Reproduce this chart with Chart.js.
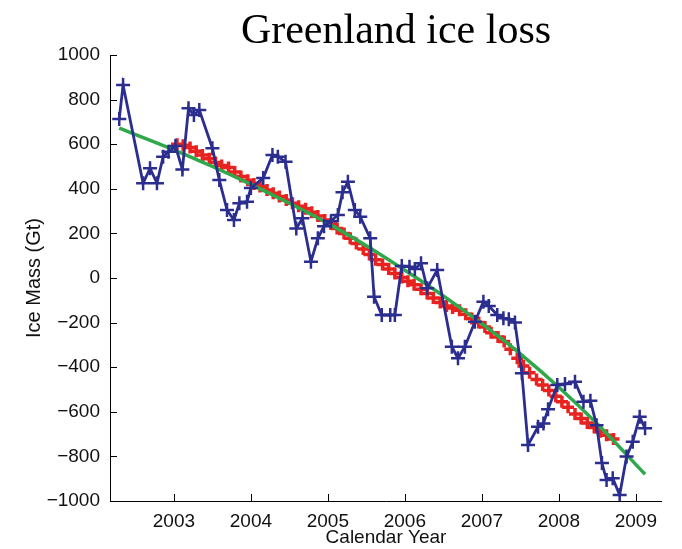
<!DOCTYPE html>
<html>
<head>
<meta charset="utf-8">
<script src="https://cdn.jsdelivr.net/npm/chart.js@4.4.1/dist/chart.umd.min.js"></script>
<style>
  body { margin: 0; background: #fff; }
  #wrap { width: 682px; height: 549px; }
</style>
</head>
<body>
<div id="wrap"><canvas id="iceChart" width="682" height="549"></canvas></div>
<script>
// GRACE monthly ice mass (blue crosses)
const blueYears = [
  2002.29, 2002.34, 2002.60, 2002.69, 2002.78, 2002.86, 2002.93, 2003.02, 2003.11, 2003.19,
  2003.26, 2003.33, 2003.50, 2003.59, 2003.69, 2003.78, 2003.85, 2003.95, 2004.00, 2004.16,
  2004.28, 2004.35, 2004.45, 2004.59, 2004.67, 2004.78, 2004.87, 2004.95, 2005.04, 2005.13,
  2005.19, 2005.26, 2005.35, 2005.42, 2005.55, 2005.60, 2005.70, 2005.81, 2005.87, 2005.96,
  2006.06, 2006.13, 2006.21, 2006.29, 2006.42, 2006.61, 2006.69, 2006.78, 2006.91, 2007.02,
  2007.09, 2007.20, 2007.28, 2007.35, 2007.43, 2007.52, 2007.60, 2007.73, 2007.80, 2007.86,
  2007.98, 2008.08, 2008.21, 2008.32, 2008.41, 2008.49, 2008.56, 2008.62, 2008.70, 2008.79,
  2008.88, 2008.96, 2009.05, 2009.12
];
const blueMass = [
  713, 865, 425, 492, 425, 544, 566, 592, 487, 761,
  731, 753, 582, 439, 305, 260, 335, 342, 404, 448,
  552, 544, 521, 222, 268, 73, 178, 232, 255, 283,
  385, 432, 305, 275, 178, -84, -166, -166, -166, 54,
  51, 40, 66, -46, 36, -308, -360, -308, -196, -106,
  -125, -166, -180, -185, -200, -427, -749, -667, -652, -589,
  -480, -475, -465, -555, -550, -660, -830, -906, -898, -973,
  -801, -734, -622, -674
];

// smoothed series (red crosses)
const redYears = [
  2003.04, 2003.12, 2003.21, 2003.29, 2003.37, 2003.46, 2003.54, 2003.62, 2003.71, 2003.79,
  2003.87, 2003.96, 2004.04, 2004.12, 2004.21, 2004.29, 2004.37, 2004.46, 2004.54, 2004.62,
  2004.71, 2004.79, 2004.87, 2004.96, 2005.04, 2005.12, 2005.21, 2005.29, 2005.37, 2005.46,
  2005.54, 2005.62, 2005.71, 2005.79, 2005.87, 2005.96, 2006.04, 2006.12, 2006.21, 2006.29,
  2006.37, 2006.46, 2006.54, 2006.62, 2006.71, 2006.79, 2006.87, 2006.96, 2007.04, 2007.12,
  2007.21, 2007.29, 2007.37, 2007.46, 2007.54, 2007.62, 2007.71, 2007.79, 2007.87, 2007.96,
  2008.04, 2008.12, 2008.21, 2008.29, 2008.37, 2008.46, 2008.54, 2008.62, 2008.71
];
const redMass = [
  600, 595, 585, 568, 552, 535, 518, 505, 495, 475,
  455, 438, 422, 410, 395, 380, 365, 350, 335, 322,
  310, 295, 278, 260, 242, 222, 200, 178, 155, 130,
  105, 82, 60, 40, 20, 2, -15, -30, -50, -70,
  -90, -110, -125, -135, -145, -162, -182, -200, -220, -245,
  -265, -285, -320, -360, -395, -425, -455, -480, -505, -530,
  -555, -580, -610, -630, -650, -670, -690, -705, -722
];

// fitted trend (green line)
const fitYears = [2002.29, 2003.0, 2003.5, 2004.0, 2004.5, 2005.0, 2005.5, 2006.0, 2006.5, 2007.0, 2007.5, 2008.0, 2008.5, 2009.12];
const fitMass = [672, 575, 500, 420, 335, 245, 145, 35, -80, -205, -340, -490, -655, -880];

const xTickYears = [2003, 2004, 2005, 2006, 2007, 2008, 2009];

const toPoints = (xs, ys) => xs.map((x, i) => ({ x: x, y: ys[i] }));

Chart.defaults.font.family = '"Liberation Sans", Arial, sans-serif';
Chart.defaults.color = "#111";

// MATLAB style axes: left + bottom line, ticks pointing inward
const matlabAxes = {
  id: "matlabAxes",
  afterDraw(chart) {
    const { ctx, chartArea: a, scales } = chart;
    ctx.save();
    ctx.strokeStyle = "#000";
    ctx.lineWidth = 1;
    ctx.beginPath();
    ctx.moveTo(a.left + 0.5, a.top);
    ctx.lineTo(a.left + 0.5, a.bottom + 0.5);
    ctx.lineTo(a.right, a.bottom + 0.5);
    scales.y.ticks.forEach((t) => {
      const py = Math.round(scales.y.getPixelForValue(t.value)) + 0.5;
      ctx.moveTo(a.left, py);
      ctx.lineTo(a.left + 7, py);
    });
    scales.x.ticks.forEach((t) => {
      const px = Math.round(scales.x.getPixelForValue(t.value)) + 0.5;
      ctx.moveTo(px, a.bottom);
      ctx.lineTo(px, a.bottom - 7);
    });
    ctx.stroke();

    ctx.fillStyle = "#000";
    ctx.font = '42px "Liberation Serif", "Times New Roman", serif';
    ctx.textAlign = "center";
    ctx.textBaseline = "alphabetic";
    ctx.fillText("Greenland ice loss", 396, 43);
    ctx.restore();
  },
};

new Chart(document.getElementById("iceChart"), {
  type: "line",
  data: {
    datasets: [
      {
        label: "GRACE",
        data: toPoints(blueYears, blueMass),
        borderColor: "#2b2d8f",
        backgroundColor: "#2b2d8f",
        borderWidth: 2.8,
        pointStyle: "cross",
        pointRadius: 7,
        pointBorderWidth: 2.5,
        tension: 0,
        order: 0,
      },
      {
        label: "Fit",
        data: toPoints(fitYears, fitMass),
        borderColor: "#2ea84a",
        borderWidth: 3.5,
        pointRadius: 0,
        cubicInterpolationMode: "monotone",
        order: 1,
      },
      {
        label: "Smoothed",
        data: toPoints(redYears, redMass),
        borderColor: "#e8231f",
        backgroundColor: "#e8231f",
        showLine: false,
        pointStyle: "cross",
        pointRadius: 6,
        pointBorderWidth: 3.5,
        order: 2,
      },
    ],
  },
  plugins: [matlabAxes],
  options: {
    responsive: false,
    animation: false,
    layout: { padding: { left: 22, right: 20, top: 55, bottom: 0 } },
    plugins: { legend: { display: false }, tooltip: { enabled: false } },
    scales: {
      x: {
        type: "linear",
        min: 2002.17,
        max: 2009.34,
        grid: { display: false, drawTicks: false },
        border: { display: false },
        afterBuildTicks: (scale) => {
          scale.ticks = xTickYears.map((v) => ({ value: v }));
        },
        afterFit: (scale) => { scale.height = 48; },
        ticks: {
          padding: 9,
          font: { size: 19 },
          color: "#111",
          maxRotation: 0,
          callback: (v) => String(v),
        },
        title: {
          display: true,
          text: "Calendar Year",
          font: { size: 19 },
          color: "#111",
          padding: 0,
        },
      },
      y: {
        min: -1000,
        max: 1000,
        grid: { display: false, drawTicks: false },
        border: { display: false },
        afterFit: (scale) => { scale.width = 88; },
        ticks: {
          stepSize: 200,
          padding: 10,
          font: { size: 19 },
          color: "#111",
          callback: (v) => String(v).replace("-", "\u2212"),
        },
        title: {
          display: true,
          text: "Ice Mass (Gt)",
          font: { size: 20 },
          color: "#111",
          padding: 0,
        },
      },
    },
  },
});
</script>
</body>
</html>
